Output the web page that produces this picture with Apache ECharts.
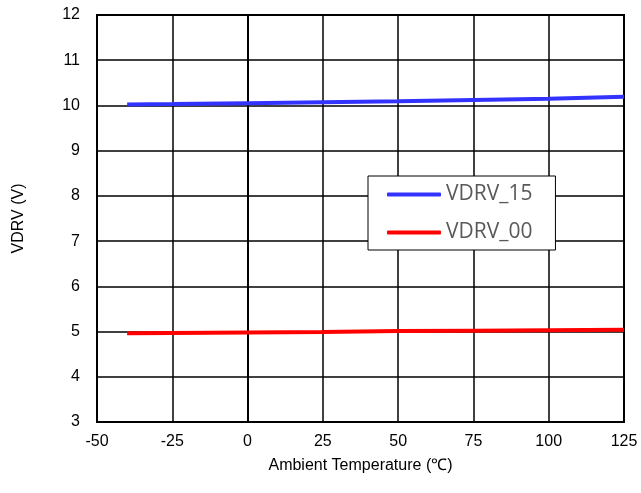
<!DOCTYPE html>
<html>
<head>
<meta charset="UTF-8">
<script src="https://cdn.jsdelivr.net/npm/echarts@6/dist/echarts.min.js"></script>
</head>
<body style="margin:0;background:#fff;">
<div id="chart" style="width:641px;height:493px;"></div>
<script>
// values
var temps = [-40, -25, 0, 25, 50, 75, 100, 125];
var vdrv15 = [10.02, 10.03, 10.05, 10.07, 10.09, 10.12, 10.15, 10.19];
var vdrv00 = [4.96, 4.97, 4.98, 4.99, 5.01, 5.02, 5.03, 5.04];

function pairs(xs, ys) {
    return xs.map(function (x, i) { return [x, ys[i]]; });
}

var chart = echarts.init(document.getElementById('chart'));
var font = 'Liberation Sans, Arial, sans-serif';
chart.setOption({
    animation: false,
    grid: {
        left: 97, right: 17, top: 15, bottom: 71,
        show: true, borderColor: '#000', borderWidth: 2
    },
    xAxis: {
        type: 'value', min: -50, max: 125, interval: 25,
        name: 'Ambient Temperature (\u2103)', nameLocation: 'middle', nameGap: 36,
        nameTextStyle: {fontFamily: font, fontSize: 16, color: '#000'},
        axisLine: {lineStyle: {color: '#000', width: 2}},
        axisTick: {show: false},
        axisLabel: {fontFamily: font, fontSize: 16, color: '#000', margin: 12},
        splitLine: {lineStyle: {color: '#000', width: 1.5}}
    },
    yAxis: {
        type: 'value', min: 3, max: 12, interval: 1,
        name: 'VDRV (V)', nameLocation: 'middle', nameGap: 70,
        nameTextStyle: {fontFamily: font, fontSize: 16, color: '#000'},
        axisLine: {show: true, lineStyle: {color: '#000', width: 2}},
        axisTick: {show: false},
        axisLabel: {fontFamily: font, fontSize: 16, color: '#000', margin: 17},
        splitLine: {lineStyle: {color: '#000', width: 1.5}}
    },
    legend: {
        orient: 'vertical', left: 368, top: 176,
        padding: [8, 23, 7, 19],
        icon: 'roundRect',
        itemWidth: 54, itemHeight: 4, itemGap: 17,
        borderColor: '#000', borderWidth: 1, backgroundColor: '#fff',
        textStyle: {fontFamily: 'Open Sans, sans-serif', fontSize: 21, color: '#595959', padding: [0, 0, 0, 0]},
        data: ['VDRV_15', 'VDRV_00']
    },
    series: [
        {name: 'VDRV_15', type: 'line', symbol: 'none', data: pairs(temps, vdrv15),
         lineStyle: {color: '#3333ff', width: 4}, itemStyle: {color: '#3333ff'}},
        {name: 'VDRV_00', type: 'line', symbol: 'none', data: pairs(temps, vdrv00),
         lineStyle: {color: '#ff0000', width: 4}, itemStyle: {color: '#ff0000'}}
    ]
});
</script>
</body>
</html>
